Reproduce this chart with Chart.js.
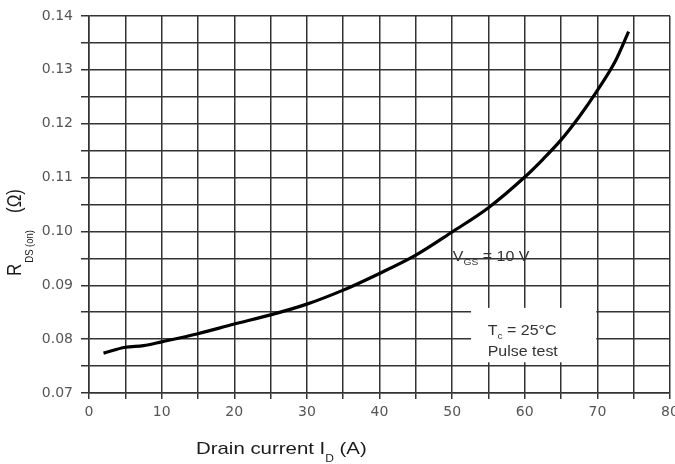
<!DOCTYPE html>
<html>
<head>
<meta charset="utf-8">
<script src="https://cdn.jsdelivr.net/npm/chart.js@4.4.1/dist/chart.umd.min.js"></script>
<style>
  html, body { margin: 0; padding: 0; background: #fff; }
  canvas { display: block; }
</style>
</head>
<body>
<canvas id="chart" width="675" height="464"></canvas>
<script>
// drain current I_D (A)
const currents = [2, 5, 7.5, 10, 15, 20, 25, 30, 35, 40, 45, 50, 55, 60, 62.5, 65, 67.5, 70, 72.5, 74.3];
// R_DS(on) (ohm), Tc = 25 C, VGS = 10 V
const resistances = [0.0774, 0.0785, 0.0788, 0.0795, 0.0810, 0.0828, 0.0845, 0.0865, 0.0891, 0.0922,
  0.0956, 0.0999, 0.1044, 0.1101, 0.1134, 0.1170, 0.1213, 0.1262, 0.1317, 0.1371];

const xTicks = [0, 10, 20, 30, 40, 50, 60, 70, 80];
const yTicks = [0.07, 0.08, 0.09, 0.10, 0.11, 0.12, 0.13, 0.14];

// notes inside the plot, in data units
const vgsNote = { x: 50.1, y: 0.0945 };
const tcNote = { x: 54.9, y: 0.0808 };
const pulseNote = { x: 54.9, y: 0.0769 };
const noteBox = { x1: 52.6, x2: 69.85, y1: 0.0757, y2: 0.0858 };

const FONT = '"Liberation Sans", Arial, sans-serif';
Chart.defaults.font.family = '"DejaVu Sans", sans-serif';

// draws text pieces one after the other (for subscripts), stretched sideways
function drawRuns(ctx, x, y, runs, stretch) {
  ctx.save();
  ctx.translate(x, y);
  ctx.scale(stretch, 1);
  let cx = 0;
  runs.forEach(r => {
    ctx.font = r.size + 'px ' + FONT;
    ctx.fillText(r.text, cx, r.dy || 0);
    cx += ctx.measureText(r.text).width;
  });
  ctx.restore();
}

const notes = {
  id: 'notes',
  beforeDatasetsDraw(chart) {
    const { ctx, scales: { x, y } } = chart;
    const l = x.getPixelForValue(noteBox.x1), r = x.getPixelForValue(noteBox.x2);
    const t = y.getPixelForValue(noteBox.y2), b = y.getPixelForValue(noteBox.y1);
    ctx.save();
    ctx.fillStyle = '#fff';
    ctx.fillRect(l, t, r - l, b - t);
    ctx.restore();
  },
  afterDraw(chart) {
    const { ctx, scales: { x, y } } = chart;
    ctx.save();
    ctx.textAlign = 'left';
    ctx.textBaseline = 'alphabetic';

    ctx.fillStyle = '#333';
    drawRuns(ctx, x.getPixelForValue(vgsNote.x), y.getPixelForValue(vgsNote.y),
      [{ text: 'V', size: 14 }, { text: 'GS', size: 9, dy: 4 }, { text: ' = 10 V', size: 14 }], 1.14);
    drawRuns(ctx, x.getPixelForValue(tcNote.x), y.getPixelForValue(tcNote.y),
      [{ text: 'T', size: 14 }, { text: 'c', size: 9, dy: 4 }, { text: ' = 25°C', size: 14 }], 1.14);
    drawRuns(ctx, x.getPixelForValue(pulseNote.x), y.getPixelForValue(pulseNote.y),
      [{ text: 'Pulse test', size: 14 }], 1.14);

    // axis titles
    ctx.fillStyle = '#1a1a1a';
    drawRuns(ctx, 196, 454,
      [{ text: 'Drain current I', size: 17 }, { text: 'D', size: 10, dy: 8 }, { text: ' (A)', size: 17 }], 1.2);

    ctx.save();
    ctx.translate(21, 276);
    ctx.rotate(-Math.PI / 2);
    ctx.scale(1, 1.15);
    ctx.font = '17px ' + FONT;
    ctx.fillText('R', 0, 0);
    const rw = ctx.measureText('R').width;
    ctx.font = '9.5px ' + FONT;
    ctx.fillText('DS (on)', rw + 1, 10);
    ctx.font = '17px ' + FONT;
    ctx.fillText('(Ω)', 63, 0);
    ctx.restore();

    ctx.restore();
  }
};

new Chart(document.getElementById('chart').getContext('2d'), {
  type: 'scatter',
  data: {
    datasets: [{
      data: currents.map((c, i) => ({ x: c, y: resistances[i] })),
      showLine: true,
      borderColor: '#000',
      borderWidth: 3.2,
      pointRadius: 0,
      cubicInterpolationMode: 'monotone',
      fill: false
    }]
  },
  options: {
    responsive: false,
    animation: false,
    layout: { padding: { top: 16, right: 5, left: 0, bottom: 0 } },
    plugins: { legend: { display: false }, tooltip: { enabled: false } },
    scales: {
      x: {
        type: 'linear',
        min: 0,
        max: 80,
        ticks: {
          stepSize: 5,
          autoSkip: false,
          maxRotation: 0,
          padding: 5,
          color: '#555',
          font: { size: 14 },
          callback: v => xTicks.includes(v) ? String(v) : ''
        },
        grid: { color: '#333', lineWidth: 1.5, tickLength: 6 },
        border: { color: '#333', width: 1.5 },
        afterFit: s => { s.height = 71; s.paddingLeft = 0; s.paddingRight = 0; }
      },
      y: {
        type: 'linear',
        min: 0.07,
        max: 0.14,
        ticks: {
          stepSize: 0.005,
          autoSkip: false,
          padding: 8,
          color: '#555',
          font: { size: 14 },
          callback: v => yTicks.some(t => Math.abs(t - v) < 1e-6) ? v.toFixed(2) : ''
        },
        grid: { color: '#333', lineWidth: 1.5, tickLength: 8 },
        border: { color: '#333', width: 1.5 },
        afterFit: s => { s.width = 89; s.paddingTop = 0; s.paddingBottom = 0; }
      }
    }
  },
  plugins: [notes]
});
</script>
</body>
</html>
